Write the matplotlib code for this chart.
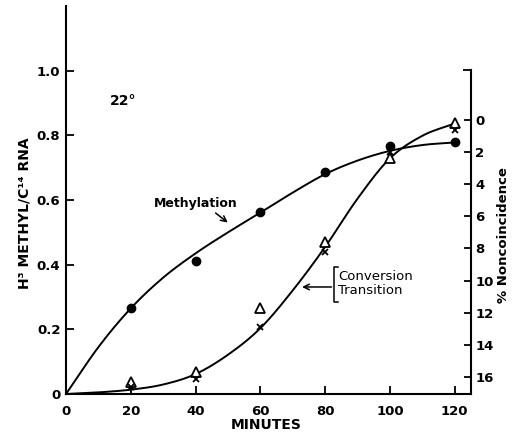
import numpy as np
import matplotlib
matplotlib.use('Agg')
import matplotlib.pyplot as plt

plt.rcParams['font.family'] = ['DejaVu Sans']

# measured points
minutes = [20, 40, 60, 80, 100, 120]
methylation = [0.265, 0.41, 0.564, 0.686, 0.766, 0.778]          # left axis
conversion = [16.3, 15.7, 11.7, 7.6, 2.4, 0.2]                   # triangles, % noncoincidence
transition = [16.6, 16.1, 12.9, 8.2, 2.0, 0.65]                  # crosses, % noncoincidence

# hand-drawn curves
curve_x = [0, 10, 20, 30, 40, 50, 60, 70, 80, 90, 100, 110, 120]
meth_curve = [0.0, 0.145, 0.265, 0.36, 0.435, 0.50, 0.561, 0.623, 0.68, 0.722, 0.752, 0.77, 0.778]
conv_curve = [17.04, 16.94, 16.77, 16.45, 15.8, 14.6, 12.95, 10.6, 7.9, 4.9, 2.4, 1.0, 0.24]

x_ticks = [0, 20, 40, 60, 80, 100, 120]
left_ticks = [0, 0.2, 0.4, 0.6, 0.8, 1.0]
left_labels = ['0', '0.2', '0.4', '0.6', '0.8', '1.0']
right_ticks = [0, 2, 4, 6, 8, 10, 12, 14, 16]


def smooth(xs, ys, n=25):
    # catmull-rom through the read points
    p = np.column_stack([xs, ys]).astype(float)
    p = np.vstack([2 * p[0] - p[1], p, 2 * p[-1] - p[-2]])
    out = []
    t = np.linspace(0, 1, n)[:, None]
    for i in range(1, len(p) - 2):
        p0, p1, p2, p3 = p[i - 1], p[i], p[i + 1], p[i + 2]
        seg = 0.5 * ((2 * p1) + (-p0 + p2) * t + (2 * p0 - 5 * p1 + 4 * p2 - p3) * t ** 2
                     + (-p0 + 3 * p1 - 3 * p2 + p3) * t ** 3)
        out.append(seg if i == 1 else seg[1:])
    out = np.vstack(out)
    return out[:, 0], out[:, 1]


fig = plt.figure(figsize=(5.15, 4.32), dpi=100)
ax = fig.add_axes([66 / 515, 38 / 432, 405 / 515, 388 / 432])
ax2 = ax.twinx()

tfont = dict(fontsize=9.5, fontweight='bold')

# left axis
ax.set_xlim(0, 125)
ax.set_ylim(0, 1.2)
ax.spines['top'].set_visible(False)
ax.spines['right'].set_visible(False)
for s in ['left', 'bottom']:
    ax.spines[s].set_linewidth(1.5)
ax.set_xticks(x_ticks)
ax.set_xticklabels([str(v) for v in x_ticks], **tfont)
ax.set_yticks(left_ticks)
ax.set_yticklabels(left_labels, **tfont)
ax.tick_params(direction='in', length=6, width=1.3, pad=4)
ax.tick_params(axis='x', pad=8)

# right axis (% noncoincidence, inverted)
r_bottom = 17.04
r_top = r_bottom - 388 / 16.1
ax2.set_ylim(r_bottom, r_top)
for s in ['left', 'top', 'bottom']:
    ax2.spines[s].set_visible(False)
ax2.spines['right'].set_linewidth(1.5)
ax2.spines['right'].set_bounds(r_bottom, -3.1)
ax2.set_yticks(right_ticks)
ax2.set_yticklabels([str(v) for v in right_ticks], **tfont)
ax2.set_yticks([-3.1], minor=True)
ax2.tick_params(axis='y', which='major', direction='in', length=5, width=1.3, pad=3)
ax2.tick_params(axis='y', which='minor', direction='in', length=6, width=1.3)

# curves and points
mx, my = smooth(curve_x, meth_curve)
ax.plot(mx, my, color='black', lw=1.4, clip_on=False)
ax.plot(minutes, methylation, 'o', color='black', ms=6, clip_on=False)

cx, cy = smooth(curve_x, conv_curve)
ax2.plot(cx, cy, color='black', lw=1.4, clip_on=False)
ax2.plot(minutes, conversion, '^', mfc='white', mec='black', mew=1.3, ms=7, clip_on=False)
ax2.plot(minutes, transition, 'x', color='black', mew=1.3, ms=4.5, clip_on=False)

# labels
ax.set_xlabel('MINUTES', fontsize=10, fontweight='bold')
ax.xaxis.set_label_coords(0.495, -0.063)
ax.set_ylabel('H³ METHYL/C¹⁴ RNA', fontsize=10, fontweight='bold')
ax.yaxis.set_label_coords(-0.086, 0.466)
ax2.set_ylabel('% Noncoincidence', fontsize=9.5, fontweight='bold')
ax2.yaxis.set_label_coords(1.065, 0.41)

ax.text(17.6, 0.905, '22°', fontsize=10, fontweight='bold', ha='center', va='center')

ax.annotate('', xy=(50.6, 0.525), xytext=(45.5, 0.565),
            arrowprops=dict(arrowstyle='->', color='black', lw=1.1))
ax.text(40, 0.59, 'Methylation', fontsize=9, fontweight='bold', ha='center', va='center')

# conversion / transition bracket
bx = 82.8
ax.plot([bx + 1.0, bx, bx, bx + 1.0], [0.393, 0.393, 0.285, 0.285], color='black', lw=1.1)
ax.annotate('', xy=(72.0, 0.331), xytext=(bx, 0.331),
            arrowprops=dict(arrowstyle='->', color='black', lw=1.1))
ax.text(bx + 1.2, 0.341, 'Conversion\nTransition', fontsize=9.5, ha='left', va='center',
        linespacing=1.05)

fig.savefig('out.png', dpi=100)
